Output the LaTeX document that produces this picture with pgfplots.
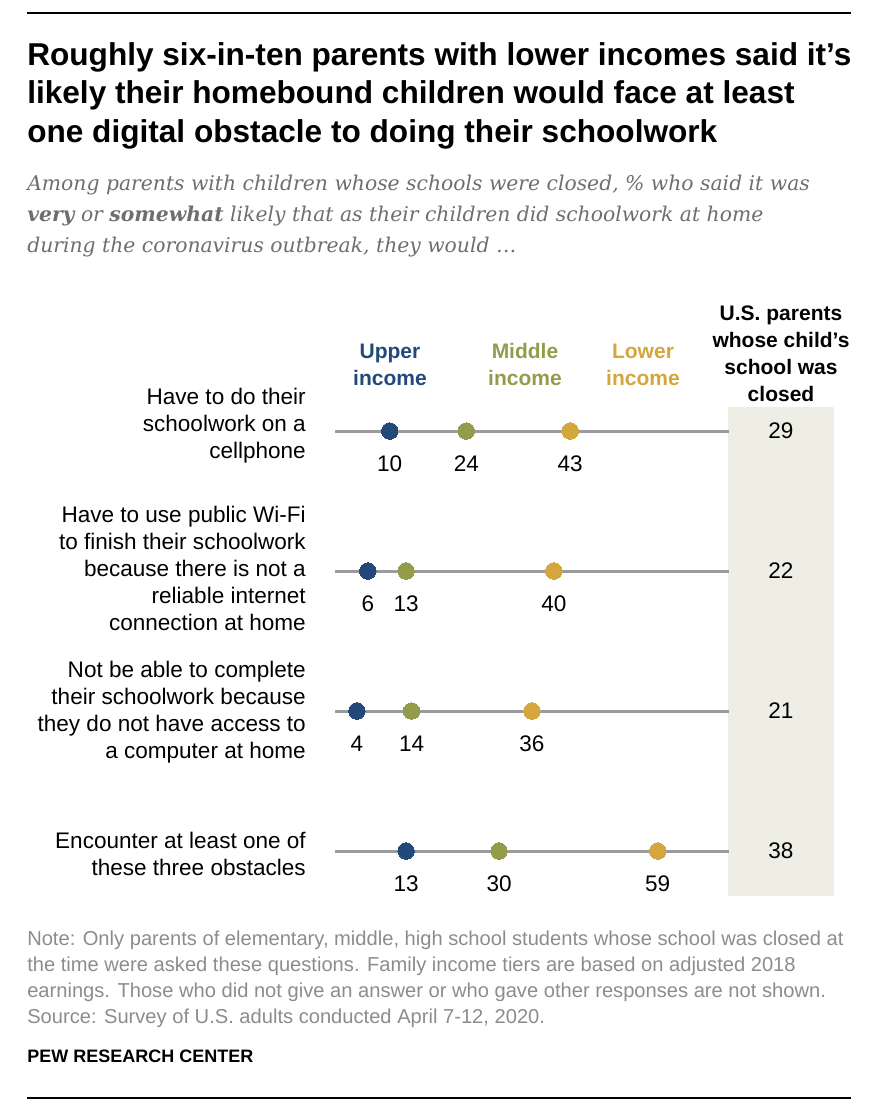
\documentclass[border=0pt]{standalone}
\usepackage{pgfplots}
\pgfplotsset{compat=1.18}
\usepackage{pgfplotstable}
\usepackage{fontspec}
\setmainfont{Liberation Sans}
\newfontfamily\subfont{DejaVu Serif}
\definecolor{upper}{HTML}{23497A}
\definecolor{middle}{HTML}{949C4C}
\definecolor{lower}{HTML}{D5A63C}
\definecolor{colbg}{HTML}{EEEEE5}
\definecolor{linegray}{HTML}{9B9B9B}
\definecolor{subgray}{HTML}{6E6E6E}
\definecolor{notegray}{HTML}{8C8C8C}

% one table per income tier: x = share, y = row position, lab = printed value
\pgfplotstableread{
x y lab
10 -431 10
6 -571 6
4 -711 4
13 -851 13
}\upperdata
\pgfplotstableread{
x y lab
24 -431 24
13 -571 13
14 -711 14
30 -851 30
}\middledata
\pgfplotstableread{
x y lab
43 -431 43
40 -571 40
36 -711 36
59 -851 59
}\lowerdata
\pgfplotstableread{
x y lab
81.5 -431 29
81.5 -571 22
81.5 -711 21
81.5 -851 38
}\totaldata

\newcommand{\bodyfont}{\fontsize{16.9pt}{20.25pt}\selectfont}
\newcommand{\headfont}{\fontsize{15.75pt}{20.25pt}\selectfont\bfseries}

\begin{document}
\begin{tikzpicture}
\begin{scope}[x=0.75pt,y=-0.75pt]
\path[use as bounding box] (0,0) rectangle (878,1118);
\fill[colbg] (728,407) rectangle (834,896);
\draw[line width=1.5pt] (27,13) -- (851,13);
\draw[line width=1.5pt] (27,1098) -- (851,1098);

% title
\begin{scope}[every node/.style={anchor=base west,inner sep=0pt,font=\fontsize{23.7pt}{29pt}\selectfont\bfseries}]
\node at (27,65) {Roughly six-in-ten parents with lower incomes said it’s};
\node at (27,103.5) {likely their homebound children would face at least};
\node at (27,142) {one digital obstacle to doing their schoolwork};
\end{scope}
\begin{scope}[every node/.style={anchor=base west,inner sep=0pt,text=subgray,font=\subfont\itshape\fontsize{15.25pt}{23pt}\selectfont}]
\node at (27,190) {Among parents with children whose schools were closed, \% who said it was};
\node at (27,221) {\textbf{very} or \textbf{somewhat} likely that as their children did schoolwork at home};
\node at (27,252) {during the coronavirus outbreak, they would …};
\end{scope}

% column headers
\begin{scope}[every node/.style={anchor=base,inner sep=0pt,font=\headfont}]
\node[text=upper] at (390,358) {Upper};
\node[text=upper] at (390,385) {income};
\node[text=middle] at (525,358) {Middle};
\node[text=middle] at (525,385) {income};
\node[text=lower] at (643,358) {Lower};
\node[text=lower] at (643,385) {income};
\node at (781,320) {U.S. parents};
\node at (781,347) {whose child's};
\node at (781,374) {school was};
\node at (781,401) {closed};
\end{scope}

% row labels
\begin{scope}[every node/.style={anchor=east,align=right,inner sep=0pt,font=\bodyfont}]
\node at (306,426) {Have to do their\\schoolwork on a\\cellphone};
\node at (306,568) {Have to use public Wi-Fi\\to finish their schoolwork\\because there is not a\\reliable internet\\connection at home};
\node at (306,712) {Not be able to complete\\their schoolwork because\\they do not have access to\\a computer at home};
\node at (306,854) {Encounter at least one of\\these three obstacles};
\end{scope}

% note
\begin{scope}[every node/.style={anchor=base west,inner sep=0pt,text=notegray,font=\fontsize{15.1pt}{19.5pt}\selectfont}]
\node at (27,945) {Note: Only parents of elementary, middle, high school students whose school was closed at};
\node at (27,971) {the time were asked these questions. Family income tiers are based on adjusted 2018};
\node at (27,997) {earnings. Those who did not give an answer or who gave other responses are not shown.};
\node at (27,1023) {Source: Survey of U.S. adults conducted April 7-12, 2020.};
\end{scope}
\node[anchor=base west,inner sep=0pt,font=\fontsize{13.5pt}{16pt}\selectfont\bfseries] at (27,1062) {PEW RESEARCH CENTER};
\end{scope}

\begin{axis}[
  at={(251.25pt,-638.25pt)}, anchor=south west,
  scale only axis, width=295.4pt, height=315pt,
  xmin=0, xmax=72, ymin=-851, ymax=-431,
  hide axis, clip=false,
  dots/.style={color=#1, only marks, mark=*, mark size=6.2pt, mark options={draw=#1, fill=#1, line width=0pt},
    nodes near coords, point meta=explicit symbolic,
    every node near coord/.append style={anchor=center, yshift=-24.75pt, text=black, font=\bodyfont}},
]
\addplot[linegray, line width=2.25pt] coordinates {(0,-431) (72,-431)};
\addplot[linegray, line width=2.25pt] coordinates {(0,-571) (72,-571)};
\addplot[linegray, line width=2.25pt] coordinates {(0,-711) (72,-711)};
\addplot[linegray, line width=2.25pt] coordinates {(0,-851) (72,-851)};
\addplot[dots=upper] table[x=x, y=y, meta=lab] {\upperdata};
\addplot[dots=middle] table[x=x, y=y, meta=lab] {\middledata};
\addplot[dots=lower] table[x=x, y=y, meta=lab] {\lowerdata};
\addplot[draw=none, mark=none, nodes near coords, point meta=explicit symbolic,
  every node near coord/.append style={anchor=center, text=black, font=\bodyfont}]
  table[x=x, y=y, meta=lab] {\totaldata};
\end{axis}
\end{tikzpicture}
\end{document}
